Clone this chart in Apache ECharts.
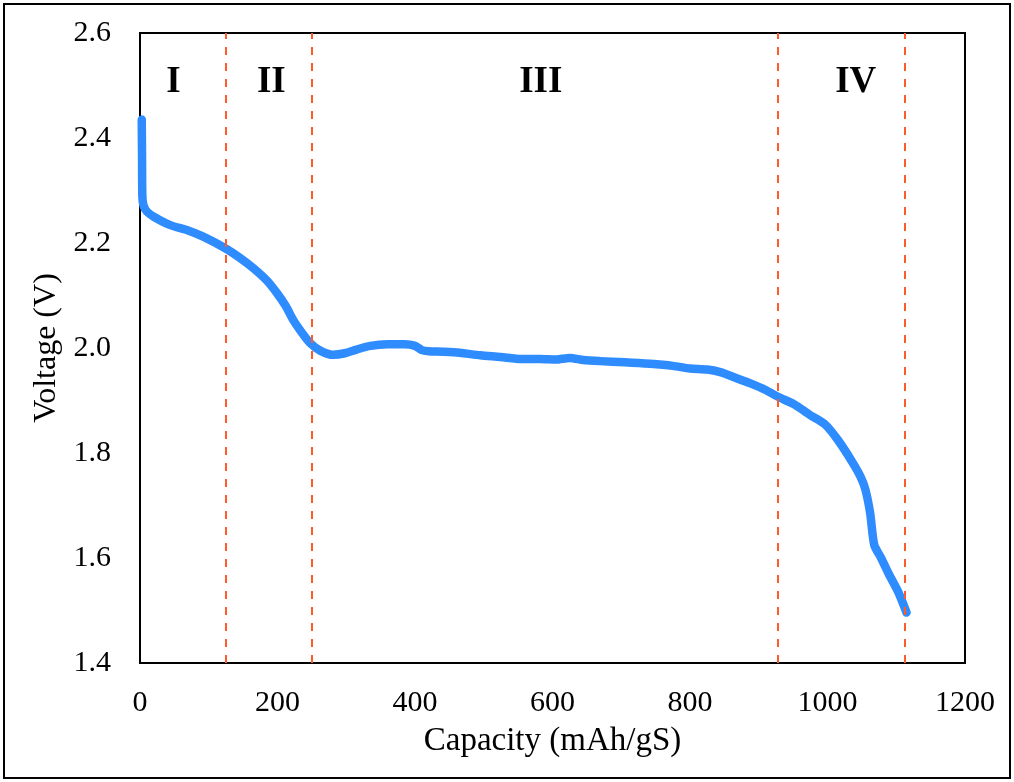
<!DOCTYPE html>
<html>
<head>
<meta charset="utf-8">
<script src="https://cdn.jsdelivr.net/npm/echarts@6/dist/echarts.min.js"></script>
<style>
  html, body { margin: 0; padding: 0; background: #fff; }
  #chart { width: 1014px; height: 782px; }
</style>
</head>
<body>
<div id="chart"></div>
<script>
// Discharge curve: capacity (mAh/gS) vs. voltage (V)
const capacity = [2.5, 3, 3.4, 5, 10, 20, 44, 70, 92, 124, 145, 165, 185, 199, 212, 223, 235, 247, 262, 281, 298, 315, 335, 360, 385, 400, 410, 420, 440, 465, 495, 524, 555, 582, 605, 625, 645, 669, 705, 742, 775, 800, 825, 844, 865, 887, 910, 928, 951, 975, 996, 1015, 1036, 1048, 1055, 1062, 1068, 1078, 1089, 1103, 1115];
const voltage  = [2.435, 2.36, 2.29, 2.272, 2.26, 2.25, 2.234, 2.224, 2.212, 2.19, 2.172, 2.152, 2.128, 2.105, 2.08, 2.053, 2.03, 2.01, 1.995, 1.987, 1.99, 1.997, 2.004, 2.007, 2.007, 2.004, 1.996, 1.994, 1.993, 1.991, 1.986, 1.983, 1.979, 1.979, 1.978, 1.981, 1.977, 1.975, 1.973, 1.970, 1.966, 1.961, 1.959, 1.954, 1.944, 1.933, 1.92, 1.907, 1.893, 1.872, 1.855, 1.825, 1.783, 1.755, 1.731, 1.686, 1.625, 1.60, 1.570, 1.535, 1.496];

// Region boundaries and stage labels
const boundaries = [124, 250, 928, 1113];
const stageNames = ['I', 'II', 'III', 'IV'];
const stageX = [48.7, 191, 583, 1041];
const stageY = 2.505;

const xTicks = { min: 0, max: 1200, interval: 200 };
const yTicks = { min: 1.4, max: 2.6, interval: 0.2 };

const serif = 'Liberation Serif';
const chart = echarts.init(document.getElementById('chart'));

chart.setOption({
  animation: false,
  backgroundColor: '#fff',
  grid: { left: 140, right: 49, top: 33, bottom: 119, show: true, borderColor: '#000', borderWidth: 2 },
  xAxis: {
    type: 'value', min: xTicks.min, max: xTicks.max, interval: xTicks.interval,
    name: 'Capacity (mAh/gS)', nameLocation: 'middle', nameGap: 62,
    nameTextStyle: { fontFamily: serif, fontSize: 33, color: '#000' },
    axisLine: { show: true, lineStyle: { color: '#000', width: 2 } },
    axisTick: { show: false },
    splitLine: { show: false },
    axisLabel: { fontFamily: serif, fontSize: 30, color: '#000', margin: 25,
      formatter: v => String(v) }
  },
  yAxis: {
    type: 'value', min: yTicks.min, max: yTicks.max, interval: yTicks.interval,
    name: 'Voltage (V)', nameLocation: 'middle', nameGap: 72, nameRotate: 90,
    nameTextStyle: { fontFamily: serif, fontSize: 32, color: '#000' },
    axisLine: { show: true, lineStyle: { color: '#000', width: 2 } },
    axisTick: { show: false },
    splitLine: { show: false },
    axisLabel: { fontFamily: serif, fontSize: 30, color: '#000', margin: 29,
      formatter: v => v.toFixed(1) }
  },
  graphic: [{
    type: 'rect', shape: { x: 4, y: 4, width: 1006, height: 774 },
    style: { fill: 'none', stroke: '#000', lineWidth: 2 }, silent: true, z: 100
  }],
  series: [
    {
      type: 'line',
      data: capacity.map((c, i) => [c, voltage[i]]),
      showSymbol: false,
      smooth: 0.25,
      lineStyle: { color: '#2f8cff', width: 8.5, cap: 'round', join: 'round' },
      z: 3,
      markLine: {
        silent: true, symbol: 'none', label: { show: false },
        lineStyle: { color: '#ff5a2a', type: [8, 8], width: 2 },
        data: boundaries.map(b => ({ xAxis: b }))
      }
    },
    {
      type: 'scatter',
      symbolSize: 0,
      itemStyle: { opacity: 1 },
      data: stageX.map((x, i) => ({ value: [x, stageY], name: stageNames[i] })),
      label: {
        show: true, position: 'inside', formatter: p => p.name, opacity: 1,
        fontFamily: serif, fontWeight: 'bold', fontSize: 37, color: '#000'
      },
      z: 4
    }
  ]
});
</script>
</body>
</html>
